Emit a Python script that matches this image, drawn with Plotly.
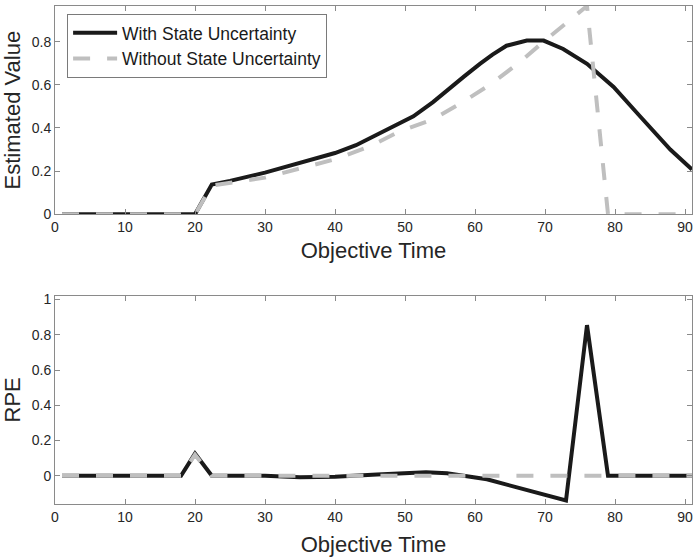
import plotly.graph_objects as go

# estimated value, with state uncertainty
tWith = [1, 4, 7, 10, 13, 16, 19, 20, 22.4, 25, 30, 35, 40, 43, 46, 49, 51.2, 54, 56, 58.5,
         60.7, 62.5, 64.5, 67.4, 69.8, 72.6, 76, 79.8, 83.6, 87.9, 91]
vWith = [0, 0, 0, 0, 0, 0, 0, 0, 0.138, 0.155, 0.193, 0.237, 0.284, 0.32, 0.37, 0.415, 0.454, 0.52, 0.575, 0.64,
         0.697, 0.74, 0.781, 0.805, 0.805, 0.766, 0.697, 0.59, 0.453, 0.30, 0.208]

# estimated value, without state uncertainty
tWithout = [1, 4, 7, 10, 13, 16, 19, 20, 22.4, 30, 40, 45, 49.3, 54, 58, 62.4, 66.4, 69.8, 76, 79, 82, 85, 88, 91]
vWithout = [0, 0, 0, 0, 0, 0, 0, 0, 0.133, 0.17, 0.255, 0.315, 0.385, 0.44, 0.515, 0.606, 0.705, 0.80, 0.965, 0, 0, 0, 0, 0]

# RPE
tRpeWith = [1, 4, 7, 10, 13, 16, 18, 20, 22.4, 25, 30, 35, 40, 46, 50, 53, 56, 58.3, 61.7, 73, 76, 79, 82, 85, 88, 91]
rpeWith = [0, 0, 0, 0, 0, 0, 0, 0.126, 0, 0, 0, -0.008, -0.005, 0.008, 0.017, 0.02, 0.015, 0, -0.02, -0.14, 0.855, 0, 0, 0, 0, 0]

tRpeWithout = [1, 4, 7, 10, 13, 16, 18, 20, 22.4, 30, 40, 50, 60, 70, 80, 91]
rpeWithout = [0, 0, 0, 0, 0, 0, 0, 0.12, 0, 0, 0, 0, 0, 0, 0, 0]

xTicks = [0, 10, 20, 30, 40, 50, 60, 70, 80, 90]

solidColor = "#1a1a1a"
dashColor = "#bfbfbf"
dashPattern = "17px,17px"
fnt = "Arial, Liberation Sans, sans-serif"

fig = go.Figure()

fig.add_trace(go.Scatter(x=tWith, y=vWith, mode="lines", name="With State Uncertainty",
                         line=dict(color=solidColor, width=4), xaxis="x", yaxis="y"))
fig.add_trace(go.Scatter(x=tWithout, y=vWithout, mode="lines", name="Without State Uncertainty",
                         line=dict(color=dashColor, width=4, dash=dashPattern), xaxis="x", yaxis="y"))
fig.add_trace(go.Scatter(x=tRpeWith, y=rpeWith, mode="lines", showlegend=False,
                         line=dict(color=solidColor, width=4), xaxis="x2", yaxis="y2"))
fig.add_trace(go.Scatter(x=tRpeWithout, y=rpeWithout, mode="lines", showlegend=False,
                         line=dict(color=dashColor, width=4, dash=dashPattern), xaxis="x2", yaxis="y2"))

axisStyle = dict(showline=True, mirror="ticks", linecolor="#8a8a8a", linewidth=1,
                 ticks="inside", ticklen=5, tickcolor="#8a8a8a", showgrid=False, zeroline=False,
                 tickfont=dict(size=14, color="#262626", family=fnt))

fig.update_layout(
    width=695, height=560,
    margin=dict(l=55, r=3, t=2, b=56),
    paper_bgcolor="white", plot_bgcolor="white",
    font=dict(family=fnt, color="#262626"),
    xaxis=dict(domain=[0, 1], range=[0, 91], tickvals=xTicks, anchor="y",
               title=dict(text="Objective Time", font=dict(size=22), standoff=8), **axisStyle),
    yaxis=dict(domain=[0.5817, 1], range=[0, 0.965], tickvals=[0, 0.2, 0.4, 0.6, 0.8],
               ticktext=["0", "0.2", "0.4", "0.6", "0.8"], anchor="x",
               title=dict(text="Estimated Value", font=dict(size=22), standoff=12), **axisStyle),
    xaxis2=dict(domain=[0, 1], range=[0, 91], tickvals=xTicks, anchor="y2",
                title=dict(text="Objective Time", font=dict(size=22), standoff=12), **axisStyle),
    yaxis2=dict(domain=[0, 0.4183], range=[-0.16, 1.022], tickvals=[0, 0.2, 0.4, 0.6, 0.8, 1],
                ticktext=["0", "0.2", "0.4", "0.6", "0.8", "1"], anchor="x2",
                title=dict(text="RPE", font=dict(size=22), standoff=12), **axisStyle),
    legend=dict(x=0.019, y=0.984, xanchor="left", yanchor="top", bgcolor="white",
                bordercolor="#7a7a7a", borderwidth=1, font=dict(size=17.5, color="#1a1a1a"),
                tracegroupgap=0, itemwidth=44),
)

# page margin off so the figure sits at the window's corner
fig.write_html("out.html", config={"displayModeBar": False},
               post_script="document.body.style.margin='0';")
